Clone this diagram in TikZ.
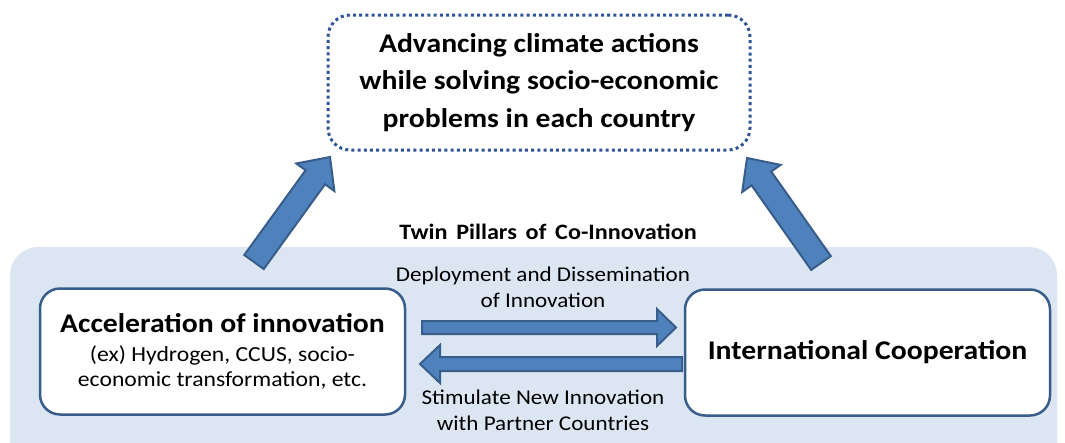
\documentclass[tikz,border=0pt]{standalone}
\usepackage{fontspec}
\setmainfont{Carlito}[FakeStretch=1.1]
\usetikzlibrary{calc}
\definecolor{arrowfill}{HTML}{4F81BD}
\definecolor{arrowline}{HTML}{385D8A}
\definecolor{panel}{HTML}{DCE6F2}
\definecolor{dotline}{HTML}{2F5597}
\tikzset{
  pillar/.style={draw=arrowline, line width=2.5pt, fill=white, rounded corners=20pt,
    minimum width=365pt, minimum height=126pt, align=center, inner sep=0pt},
  goal/.style={draw=dotline, line width=3pt, dash pattern=on 3pt off 3.2pt, fill=white,
    rounded corners=22pt, minimum width=422pt, minimum height=135pt, align=center, inner sep=0pt},
  barrow/.style={fill=arrowfill, draw=arrowline, line width=2pt, line join=miter},
  lbl/.style={align=center, inner sep=0pt, font=\fontsize{21}{26}\selectfont},
}
% block arrow: from, to, half body width, half head width, head length
\newcommand\blockarrow[5]{%
  \coordinate (#2-hb) at ($(#2)!#5!(#1)$);
  \draw[barrow] ($(#1)!#3!90:(#2)$) -- ($(#2-hb)!#3!-90:(#1)$) -- ($(#2-hb)!#4!-90:(#1)$)
    -- (#2) -- ($(#2-hb)!#4!90:(#1)$) -- ($(#2-hb)!#3!90:(#1)$) -- ($(#1)!#3!-90:(#2)$) -- cycle;
}
\begin{document}
\begin{tikzpicture}[x=1pt,y=-1pt]
\useasboundingbox (0,0) rectangle (1065,442);
\clip (0,0) rectangle (1065,442);
% panel
\fill[panel, rounded corners=28pt] (10,247) rectangle (1057,480);
% goal
\node[goal, font=\fontsize{27}{37.5}\selectfont\bfseries] (goal) at (539,82.5)
  {Advancing climate actions\\while solving socio-economic\\problems in each country};
% title of the panel
\node[inner sep=0pt, font=\fontsize{22}{26}\selectfont\bfseries] (twin) at (548,232)
  {\spaceskip=0.4em\relax Twin Pillars of Co-Innovation};
% pillars
\node[pillar, font=\fontsize{21.5}{25}\selectfont] (accel) at (222.5,351.5)
  {{\fontsize{27}{30}\selectfont\bfseries Acceleration of innovation}\\[4pt]
   (ex) Hydrogen, CCUS, socio-\\economic transformation, etc.};
\node[pillar, font=\fontsize{27}{30}\selectfont\bfseries] (coop) at (867.5,352.5) {International Cooperation};
% labels
\node[lbl] (deploy) at (543,287) {Deployment and Dissemination\\of Innovation};
\node[lbl] (stim) at (543,410) {Stimulate New Innovation\\with Partner Countries};
% horizontal arrows
\coordinate (r0) at (422,327.5);
\coordinate (r1) at (676,327.5);
\blockarrow{r0}{r1}{6.5pt}{18.5pt}{19pt}
\coordinate (l0) at (682,364);
\coordinate (l1) at (420,364);
\blockarrow{l0}{l1}{7pt}{19pt}{20pt}
% up arrows
\coordinate (u0) at (254,262);
\coordinate (u1) at (330,157);
\blockarrow{u0}{u1}{12pt}{23.5pt}{25pt}
\coordinate (v0) at (821,263);
\coordinate (v1) at (747,158);
\blockarrow{v0}{v1}{12pt}{23.5pt}{25pt}
\end{tikzpicture}
\end{document}
